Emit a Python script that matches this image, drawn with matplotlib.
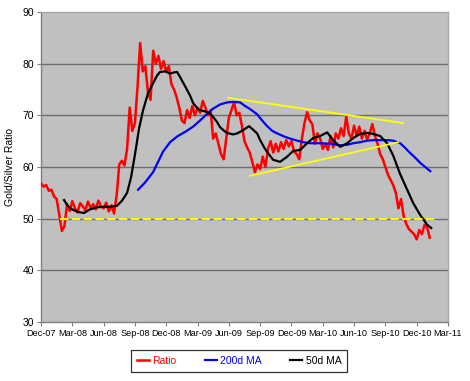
import matplotlib
matplotlib.use("Agg")
import matplotlib.pyplot as plt

plt.rcParams['font.family'] = ['Liberation Sans', 'DejaVu Sans']
plt.rcParams['lines.scale_dashes'] = False

# x positions are months since 1 Dec 2007
ratio_months = [0, 0.25, 0.5, 0.75, 1.0, 1.25, 1.5, 1.75, 2.0, 2.25, 2.5, 2.75, 3.0, 3.25, 3.5, 3.75,
                4.0, 4.25, 4.5, 4.75, 5.0, 5.25, 5.5, 5.75, 6.0, 6.25, 6.5, 6.75, 7.0, 7.25, 7.5, 7.75,
                8.0, 8.25, 8.5, 8.75, 9.0, 9.25, 9.5, 9.75, 10.0, 10.25, 10.5, 10.75, 11.0, 11.25, 11.5, 11.75,
                12.0, 12.25, 12.5, 12.75, 13.0, 13.25, 13.5, 13.75, 14.0, 14.25, 14.5, 14.75, 15.0, 15.25, 15.5, 15.75,
                16.0, 16.25, 16.5, 16.75, 17.0, 17.25, 17.5, 17.75, 18.0, 18.25, 18.5, 18.75, 19.0, 19.25, 19.5, 19.75,
                20.0, 20.25, 20.5, 20.75, 21.0, 21.25, 21.5, 21.75, 22.0, 22.25, 22.5, 22.75, 23.0, 23.25, 23.5, 23.75,
                24.0, 24.25, 24.5, 24.75, 25.0, 25.25, 25.5, 25.75, 26.0, 26.25, 26.5, 26.75, 27.0, 27.25, 27.5, 27.75,
                28.0, 28.25, 28.5, 28.75, 29.0, 29.25, 29.5, 29.75, 30.0, 30.25, 30.5, 30.75, 31.0, 31.25, 31.5, 31.75,
                32.0, 32.25, 32.5, 32.75, 33.0, 33.25, 33.5, 33.75, 34.0, 34.25, 34.5, 34.75, 35.0, 35.25, 35.5, 35.75,
                36.0, 36.25, 36.5, 36.75, 37.0, 37.25]
ratio_values = [56.8, 56.2, 56.5, 55.4, 55.6, 54.3, 53.8, 50.8, 47.6, 48.6, 52.8, 51.5, 53.4, 52.0, 51.2, 53.0,
                52.4, 51.6, 53.3, 52.1, 52.8, 51.8, 53.5, 52.4, 52.0, 53.1, 51.4, 52.6, 51.0, 54.5, 60.5, 61.2,
                60.3, 63.5, 71.5, 67.0, 68.5, 75.5, 84.0, 78.5, 79.5, 74.5, 73.0, 82.5, 80.0, 81.5, 79.0, 80.5,
                78.5, 79.5, 76.0, 75.0, 73.5, 71.5, 69.0, 68.5, 71.0, 69.5, 71.8, 70.0, 71.5, 70.5, 72.8, 71.5,
                70.0, 71.0, 65.5, 66.5, 64.5, 62.5, 61.5, 65.5, 69.5, 71.0, 72.5, 70.0, 70.5, 68.0, 65.0, 63.8,
                62.8, 61.0, 59.0, 60.5, 59.6, 62.0, 60.0, 63.5, 65.0, 62.8, 64.5, 63.0, 64.8, 63.5, 65.2, 64.0,
                65.0, 63.0, 62.5, 61.5, 65.5, 68.5, 70.6, 69.0, 68.3, 64.5, 66.5, 65.5, 63.5, 64.5, 63.3, 66.0,
                63.8, 66.5, 65.5, 67.5, 66.0, 69.8, 66.5, 65.5, 68.0, 66.0, 67.8, 65.5, 67.0, 65.3, 66.5, 68.3,
                66.0, 64.5, 62.5, 61.5, 60.0, 58.5, 57.5, 56.5, 55.0, 52.0, 53.8, 50.5, 49.0, 48.0, 47.5, 47.0,
                46.0, 47.8, 47.0, 48.8, 48.3, 46.3]

ma200_months = [9.30, 9.97, 10.74, 11.22, 11.70, 12.37, 13.04, 13.81, 14.57, 15.24, 15.92, 16.49, 17.16,
                17.83, 18.41, 19.08, 19.56, 20.04, 20.71, 21.19, 21.67, 22.15, 22.63, 23.30, 23.87, 24.54,
                25.12, 25.79, 26.75, 27.71, 28.67, 29.34, 29.91, 30.58, 31.26, 31.83, 32.50, 33.17, 33.75,
                34.42, 34.90, 35.38, 35.86, 36.34, 36.82, 37.30]
ma200_values = [55.6, 57.0, 59.0, 61.0, 63.0, 64.8, 65.9, 66.8, 67.8, 69.0, 70.3, 71.3, 72.1,
                72.5, 72.6, 72.5, 71.8, 71.2, 70.2, 69.0, 67.9, 67.0, 66.5, 65.9, 65.5, 65.1,
                64.8, 64.6, 64.6, 64.5, 64.2, 64.3, 64.6, 64.8, 65.1, 65.2, 65.2, 65.2, 65.1,
                64.6, 63.7, 62.7, 61.8, 60.8, 60.0, 59.2]

ma50_months = [2.21, 2.59, 2.97, 3.55, 4.12, 4.70, 5.37, 6.04, 6.62, 7.29, 7.77, 8.25, 8.63, 9.01, 9.40,
               9.78, 10.26, 10.74, 11.12, 11.41, 11.89, 12.37, 12.75, 13.04, 13.33, 13.71, 14.00, 14.29,
               14.57, 14.96, 15.24, 15.63, 15.92, 16.20, 16.49, 16.87, 17.16, 17.55, 17.83, 18.41, 18.79,
               19.08, 19.56, 19.94, 20.33, 20.71, 21.00, 21.38, 21.67, 22.24, 22.91, 23.59, 24.16, 24.83,
               25.50, 26.08, 26.75, 27.42, 27.99, 28.67, 29.34, 29.91, 30.58, 31.26, 31.83, 32.50, 33.17,
               33.75, 34.42, 35.09, 35.67, 36.34, 37.01, 37.39]
ma50_values = [53.6, 52.4, 51.8, 51.3, 51.1, 51.8, 52.2, 52.3, 52.3, 52.5, 53.5, 55.0, 58.0, 62.5, 67.5,
               71.0, 74.3, 76.2, 77.7, 78.4, 78.5, 78.1, 78.3, 78.4, 77.4, 76.0, 74.9, 73.8,
               72.4, 71.4, 71.0, 70.8, 70.6, 70.3, 69.7, 68.7, 67.7, 67.0, 66.6, 66.3, 66.5,
               66.8, 67.4, 67.9, 67.2, 66.5, 65.2, 63.8, 62.9, 61.4, 61.0, 62.0, 63.1, 63.3,
               64.6, 65.6, 66.0, 66.7, 65.2, 63.9, 64.6, 65.6, 66.4, 66.6, 66.4, 66.0, 64.6,
               62.2, 58.6, 55.6, 53.0, 50.7, 48.8, 48.2]

# yellow trend lines: (start month, start value, end month, end value)
upper_trend = [17.93, 73.4, 34.71, 68.5]
lower_trend = [20.04, 58.3, 34.23, 64.8]
support_line = [1.82, 50.0, 37.78, 50.0]

tick_months = [0, 3, 6, 9, 12, 15, 18, 21, 24, 27, 30, 33, 36, 39]
tick_labels = ['Dec-07', 'Mar-08', 'Jun-08', 'Sep-08', 'Dec-08', 'Mar-09', 'Jun-09',
               'Sep-09', 'Dec-09', 'Mar-10', 'Jun-10', 'Sep-10', 'Dec-10', 'Mar-11']
y_ticks = [30, 40, 50, 60, 70, 80, 90]

fig = plt.figure(figsize=(4.70, 3.81), dpi=100)
ax = fig.add_axes([41/470, 59/381, 407/470, 310/381])
ax.set_facecolor('#C0C0C0')

for yv in [40, 50, 60, 70, 80]:
    ax.axhline(yv, color='#6E6E6E', lw=1.0, zorder=1)

l1, = ax.plot(ratio_months, ratio_values, color='#FF0000', lw=1.8, zorder=3, label='Ratio')
l2, = ax.plot(ma200_months, ma200_values, color='#0000FF', lw=1.6, zorder=4, label='200d MA')
l3, = ax.plot(ma50_months, ma50_values, color='#000000', lw=1.6, zorder=5, label='50d MA')

ax.plot([upper_trend[0], upper_trend[2]], [upper_trend[1], upper_trend[3]], color='#FFFF00', lw=1.3, zorder=6)
ax.plot([lower_trend[0], lower_trend[2]], [lower_trend[1], lower_trend[3]], color='#FFFF00', lw=1.3, zorder=6)
ax.plot([support_line[0], support_line[2]], [support_line[1], support_line[3]], color='#FFFF00', lw=1.4,
        zorder=6, dashes=(6, 2.5))

ax.set_xlim(0, 39)
ax.set_ylim(30, 90)
ax.set_xticks(tick_months)
ax.set_xticklabels(tick_labels, fontsize=6.6)
ax.set_yticks(y_ticks)
ax.set_yticklabels([str(v) for v in y_ticks], fontsize=7.5)
ax.tick_params(axis='both', direction='out', length=3, width=0.8, color='#808080', pad=2)
ax.set_ylabel('Gold/Silver Ratio', fontsize=7.5, labelpad=5)

for s in ['left', 'bottom']:
    ax.spines[s].set_color('#808080')
    ax.spines[s].set_linewidth(1.0)
for s in ['top', 'right']:
    ax.spines[s].set_color('#A8A8A8')
    ax.spines[s].set_linewidth(1.0)

leg = fig.legend(handles=[l1, l2, l3], loc='center', bbox_to_anchor=(239/470, 20/381), ncol=3,
                 fontsize=7.5, frameon=True, fancybox=False, handlelength=1.2, handletextpad=0.3,
                 columnspacing=2.7, borderpad=0.55)
leg.get_frame().set_edgecolor('black')
leg.get_frame().set_linewidth(0.9)
for txt, line in zip(leg.get_texts(), [l1, l2, l3]):
    txt.set_color(line.get_color())

fig.savefig('out.png', dpi=100)
